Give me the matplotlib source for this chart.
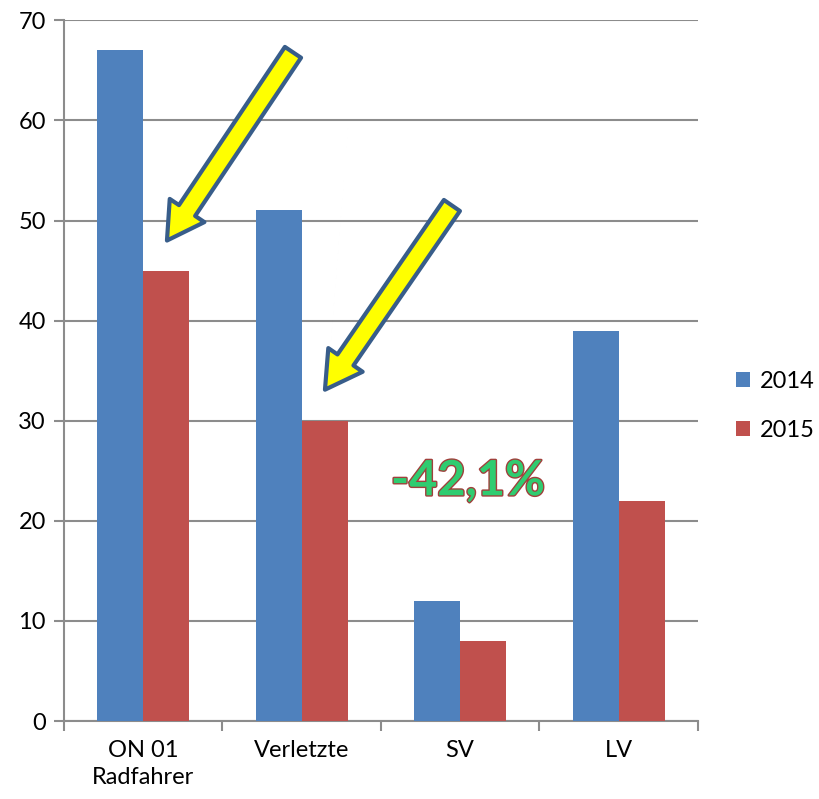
import matplotlib.pyplot as plt
import matplotlib.patheffects as pe
from matplotlib.patches import FancyArrowPatch
import numpy as np

plt.rcParams['font.family'] = ['Lato', 'DejaVu Sans']

categories = ['ON 01\nRadfahrer', 'Verletzte', 'SV', 'LV']
values_2014 = [67, 51, 12, 39]
values_2015 = [45, 30, 8, 22]
series_labels = ['2014', '2015']
annotation_text = '-42,1%'

blue = '#4f81bd'
red = '#c0504d'
grid_color = '#8c8c8c'

fig = plt.figure(figsize=(8.19, 7.99), dpi=100)
ax = fig.add_axes([0.0781, 0.0976, 0.774, 0.877])

x = np.arange(len(categories))
w = 0.29
ax.bar(x - w / 2, values_2014, w, color=blue, label=series_labels[0], zorder=3)
ax.bar(x + w / 2, values_2015, w, color=red, label=series_labels[1], zorder=3)

ax.set_xlim(-0.5, len(categories) - 0.5)
ax.set_ylim(0, 70)
ax.set_yticks(range(0, 71, 10))
ax.yaxis.grid(True, color=grid_color, linewidth=1.5, zorder=0)
ax.set_axisbelow(True)

for s in ['top', 'right']:
    ax.spines[s].set_visible(False)
for s in ['left', 'bottom']:
    ax.spines[s].set_color(grid_color)
    ax.spines[s].set_linewidth(1.5)

ax.set_xticks(x)
ax.set_xticklabels(categories, linespacing=1.35)
ax.set_xticks(np.arange(-0.5, len(categories)), minor=True)
ax.tick_params(axis='x', which='major', length=0, pad=14, labelsize=17)
ax.tick_params(axis='x', which='minor', length=7, width=1.5, color=grid_color)
ax.tick_params(axis='y', length=7, width=1.5, color=grid_color, labelsize=17, pad=6)

# Pfeile
arrows = [((0.945, 66.8), (0.15, 48.0)), ((1.948, 51.5), (1.147, 33.1))]
for tail, tip in arrows:
    ax.add_patch(FancyArrowPatch(tail, tip,
                                 arrowstyle='simple,tail_width=1.4,head_width=3.0,head_length=2.6',
                                 mutation_scale=10, facecolor='#ffff00', edgecolor='#385d8a',
                                 linewidth=3, zorder=5, shrinkA=0, shrinkB=0))

ax.text(2.05, 24.0, annotation_text, ha='center', va='center', fontsize=35,
        fontweight='bold', color='#2fcc70', zorder=6,
        path_effects=[pe.withStroke(linewidth=2, foreground='#a0403c')])

ax.legend(loc='center left', bbox_to_anchor=(0.899, 0.492), bbox_transform=fig.transFigure,
          frameon=False, fontsize=17, handlelength=0.6, handleheight=0.6,
          labelspacing=1.2, handletextpad=0.4, borderpad=0, borderaxespad=0)

plt.savefig('out.png', dpi=100)
